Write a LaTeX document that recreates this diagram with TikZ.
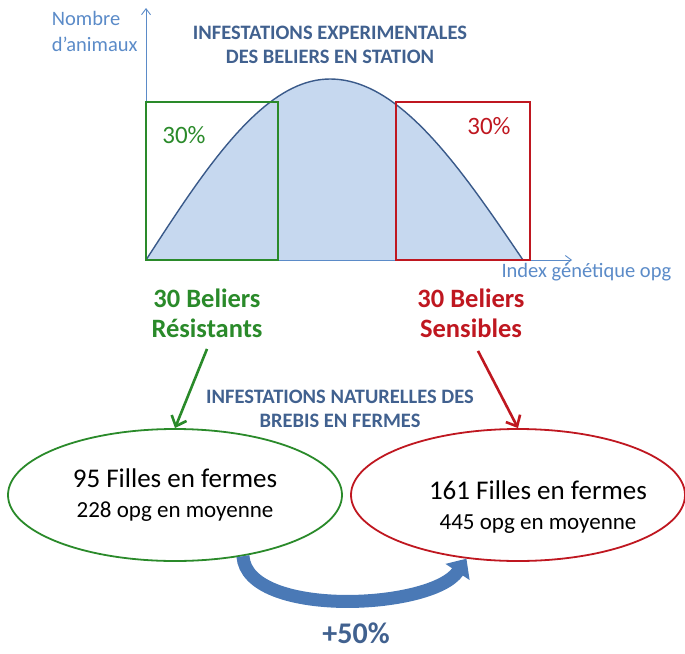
\documentclass[tikz,border=0pt]{standalone}
\usepackage{fontspec}
\setmainfont{Carlito}
\usetikzlibrary{arrows.meta, positioning, shapes.geometric, calc}
\usepackage{xcolor}
\definecolor{AxisBlue}{HTML}{5B8BC8}
\definecolor{TitleBlue}{HTML}{41618F}
\definecolor{CurveFill}{HTML}{C6D8EF}
\definecolor{CurveLine}{HTML}{3A5A8A}
\definecolor{ResGreen}{HTML}{2A8A2A}
\definecolor{SensRed}{HTML}{BF1720}
\definecolor{Band}{HTML}{4A79B6}

\begin{document}
\begin{tikzpicture}[
            x=1pt, y=-1pt,
            axis/.style={draw=AxisBlue, line width=0.9pt, -{Straight Barb[length=6pt, width=9pt]}},
            axislabel/.style={text=AxisBlue, font=\fontsize{20.5}{26}\selectfont, align=left},
            heading/.style={text=TitleBlue, font=\bfseries\fontsize{20.5}{24}\selectfont, align=center},
            ram/.style={font=\bfseries\fontsize{26.5}{30}\selectfont, align=center},
            share/.style={font=\fontsize{25}{28}\selectfont},
            farm/.style={ellipse, draw, line width=1.8pt, minimum width=334pt, minimum height=132pt, align=center, text=black, font=\fontsize{27}{30}\selectfont},
            choice/.style={line width=2.6pt, -{Straight Barb[length=9pt, width=16pt]}}
        ]
            \useasboundingbox (0,0) rectangle (685,653);

            % distribution curve
            \fill[CurveFill] (146,260)
                -- plot[domain=146:330, samples=40] (\x, {260-181*sin((\x-146)/184*90)})
                -- plot[domain=330:523, samples=40] (\x, {260-181*cos((\x-330)/193*90)}) -- cycle;
            \draw[CurveLine, line width=1.4pt]
                plot[domain=146:330, samples=40] (\x, {260-181*sin((\x-146)/184*90)})
                -- plot[domain=330:523, samples=40] (\x, {260-181*cos((\x-330)/193*90)});

            % axes
            \draw[axis] (146,260) -- (146,8);
            \draw[axis] (146,260) -- (572,260);
            \node[axislabel, anchor=east] (yname) at (141,31) {Nombre\\d'animaux};
            \node[axislabel, anchor=west] (xname) at (498,272) {Index génétique opg};

            % selected 30%
            \draw[ResGreen, line width=1.8pt] (146,102) rectangle (278,260);
            \draw[SensRed, line width=1.8pt] (396,102) rectangle (530,260);
            \node[share, text=ResGreen] (pres) at (184,135) {30\%};
            \node[share, text=SensRed] (psens) at (489,126) {30\%};

            \node[heading] (station) at (330,45) {INFESTATIONS EXPERIMENTALES\\DES BELIERS EN STATION};

            % rams
            \node[ram, text=ResGreen] (res) at (207,313) {30 Beliers\\Résistants};
            \node[ram, text=SensRed] (sens) at (471,313) {30 Beliers\\Sensibles};

            \node[heading] (ferme) at (340,409) {INFESTATIONS NATURELLES DES\\BREBIS EN FERMES};

            % daughters
            \node[farm, draw=ResGreen] (fres) at (175,495) {95 Filles en fermes\\{\fontsize{23}{26}\selectfont 228 opg en moyenne}};
            \node[farm, draw=SensRed, label={[farm, draw=none, xshift=20pt, yshift=-12pt]center:161 Filles en fermes\\{\fontsize{23}{26}\selectfont 445 opg en moyenne}}] (fsens) at (518,495) {};

            \draw[choice, ResGreen] ($(res.south)+(0,8)$) -- (fres.north);
            \draw[choice, SensRed] ($(sens.south)+(7,10)$) -- (fsens.north);

            % gain
            \draw[Band, line width=13pt, -{Triangle[length=16pt, width=28pt]}]
                (fres.-42) .. controls (247,618) and (432,610) .. (fsens.-129);
            \node[font=\bfseries\fontsize{30}{32}\selectfont, text=TitleBlue] (gain) at (356,633) {+50\%};
        \end{tikzpicture}
\end{document}
